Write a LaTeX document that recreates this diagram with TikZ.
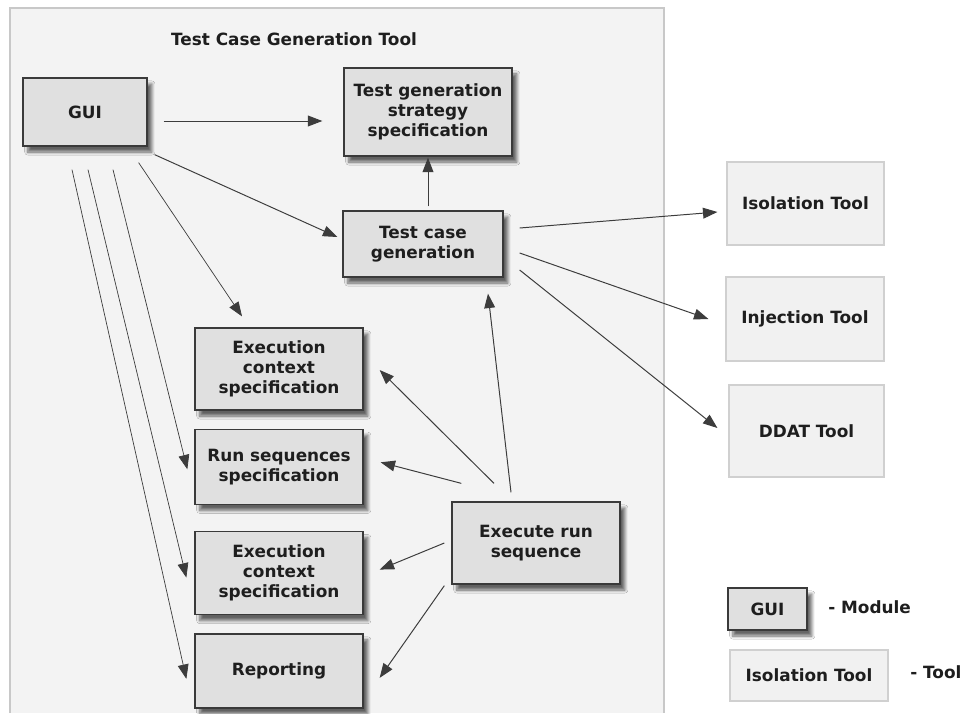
\documentclass[tikz,border=0pt]{standalone}
\usepackage{fontspec}
\setmainfont{DejaVu Sans}
\usepackage{xcolor}
\usepackage{tikz}
\usetikzlibrary{arrows.meta,calc,positioning,shadows,shadows.blur}
\definecolor{framefill}{HTML}{F3F3F3}
\definecolor{frameline}{HTML}{C8C8C8}
\definecolor{modfill}{HTML}{E0E0E0}
\definecolor{modline}{HTML}{3A3A3A}
\definecolor{toolfill}{HTML}{F1F1F1}
\definecolor{toolline}{HTML}{D0D0D0}
\definecolor{txt}{HTML}{1E1E1E}
\definecolor{lnk}{HTML}{3C3C3C}

\begin{document}
\begin{tikzpicture}[x=0.025cm,y=-0.025cm,font=\fontsize{12}{14.2}\selectfont\bfseries]
  \tikzstyle{module} = [draw=modline,fill=modfill,text=txt,line width=0.9pt,minimum width=4.2cm,align=center,
    blur shadow={shadow xshift=0.12cm,shadow yshift=-0.15cm,shadow blur steps=8,shadow opacity=60}]
  \tikzstyle{tool} = [draw=toolline,fill=toolfill,text=txt,line width=0.8pt,align=center]
  \tikzstyle{link} = [draw=lnk,line width=0.7pt,-{Triangle[length=0.36cm,width=0.27cm]}]

  \useasboundingbox (0,0) rectangle (963,713);
  \fill[white] (0,0) rectangle (963,713);

  % tool frame, open at the bottom
  \fill[framefill] (10,8) rectangle (664,713);
  \draw[frameline,line width=0.8pt] (10,713) -- (10,8) -- (664,8) -- (664,713);
  \node[text=txt] (title) at (294,39) {Test Case Generation Tool};

  \node[module,minimum width=3.1cm,minimum height=1.7cm] (GUI) at (85,112) {GUI};
  \node[module,minimum height=2.2cm] (Strategy) at (428,112) {Test generation\\strategy\\specification};
  \node[module,minimum width=4.0cm,minimum height=1.65cm] (TCGen) at (423,244) {Test case\\generation};

  \node[module,minimum height=2.05cm] (ExecCtx_0) at (279,369) {Execution\\context\\specification};
  \node[module,minimum height=1.875cm] (RunSeq) [below = 0.45cm of ExecCtx_0] {Run sequences\\specification};
  \node[module,minimum height=2.075cm] (ExecCtx_1) [below = 0.65cm of RunSeq] {Execution\\context\\specification};
  \node[module,minimum height=1.85cm] (Report) [below = 0.45cm of ExecCtx_1] {Reporting};

  \node[module,minimum height=2.05cm] (ExecRun) at (536,543) {Execute run\\sequence};

  \node[tool,minimum width=3.925cm,minimum height=2.075cm] (Tool_0) at (805.5,203.5) {Isolation Tool};
  \node[tool,minimum width=3.95cm,minimum height=2.1cm] (Tool_1) at (805,319) {Injection Tool};
  \node[tool,minimum width=3.875cm,minimum height=2.3cm] (Tool_2) at (806.5,431) {DDAT Tool};

  % legend
  \node[module,minimum width=1.975cm,minimum height=1.05cm] (Legend_0) at (767.5,609) {GUI};
  \node[tool,minimum width=3.95cm,minimum height=1.275cm] (Legend_1) at (809,675.5) {Isolation Tool};
  \node[text=txt,anchor=west,inner sep=0pt] (Legend_0_text) at (828,607) {- Module};
  \node[text=txt,anchor=west,inner sep=0pt] (Legend_1_text) at (910,672) {- Tool};

  \draw [link] ($(GUI.east)+(16,9)$) -- ($(Strategy.west)+(-21,9)$);
  \draw [link] ($(GUI.south east)+(7,8)$) -- ($(TCGen.west)+(-5,-7)$);
  \draw [link] ($(TCGen.north)+(5,-4)$) -- ($(Strategy.south)+(0,1)$);

  \draw [link] ($(TCGen.east)+(16,-16)$) -- ($(Tool_0.west)+(-9,8.5)$);
  \draw [link] ($(TCGen.east)+(16,9)$) -- ($(Tool_1.west)+(-17,0)$);
  \draw [link] ($(TCGen.east)+(16,26)$) -- ($(Tool_2.west)+(-11,-3)$);

  \draw [link] ($(ExecRun.north)+(-25,-9)$) -- ($(TCGen.south)+(65,16)$);
  \draw [link] ($(ExecRun.north)+(-42,-18)$) -- ($(ExecCtx_0.east)+(16,1)$);
  \draw [link] ($(ExecRun.north west)+(10,-18)$) -- ($(RunSeq.east)+(17,-4.5)$);
  \draw [link] ($(ExecRun.west)+(-7,0)$) -- ($(ExecCtx_1.east)+(16,-3.5)$);
  \draw [link] ($(ExecRun.south west)+(-7,1)$) -- ($(Report.east)+(16,7)$);

  \draw [link,line width=0.5pt] ($(GUI.south east)+(-9,16)$) -- ($(ExecCtx_0.north)+(-37,-11)$);
  \draw [link,line width=0.5pt] ($(GUI.south)+(28,23)$) -- ($(RunSeq.west)+(-7,2.5)$);
  \draw [link,line width=0.5pt] ($(GUI.south)+(3,23)$) -- ($(ExecCtx_1.west)+(-8,4.5)$);
  \draw [link,line width=0.5pt] ($(GUI.south)+(-13,23)$) -- ($(Report.west)+(-8,8)$);
\end{tikzpicture}
\end{document}
